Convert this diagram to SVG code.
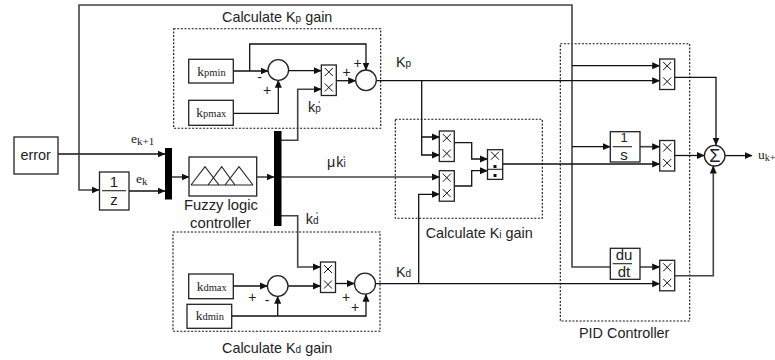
<svg xmlns="http://www.w3.org/2000/svg" xmlns:xlink="http://www.w3.org/1999/xlink" width="775" height="360" viewBox="0 0 775 360">
<style>
text{font-family:"Liberation Sans",Arial,sans-serif;font-size:14.4px;fill:#222}
.s{font-family:"Liberation Serif","Times New Roman",serif;font-size:13.500px}
.b{fill:#fff;stroke:#222;stroke-width:1.3}
.d{fill:none;stroke:#111;stroke-width:1.1;stroke-dasharray:2 1.6}
.c{fill:none;stroke:#111;stroke-width:1.3}
.t{fill:none;stroke:#444;stroke-width:1.6}
.a{marker-end:url(#ah)}
.x{stroke:#111;stroke-width:1;fill:none}
.f{stroke:#222;stroke-width:1.1}
.m{text-anchor:middle}
.sub{font-size:10px}
.pr{font-size:9px}
.sg{font-size:14px}
</style>
<defs>
<marker id="ah" markerUnits="userSpaceOnUse" markerWidth="10" markerHeight="8" refX="7.5" refY="4" orient="auto"><path d="M0,.5 L8,4 L0,7.500 Z" fill="#111"/></marker>
<g id="prod"><rect class="b" x="0" y="0" width="15" height="30.500"/><path class="x" d="M3.500,3 L11.500,11 M11.500,3 L3.500,11 M3.500,18.500 L11.500,26.500 M11.500,18.500 L3.500,26.500"/></g>
</defs>
<rect width="775" height="360" fill="#fff"/>
<g id="regions">
<rect class="d" x="173.700" y="28.700" width="207" height="99.600"/>
<rect class="d" x="173" y="232" width="207" height="99.300"/>
<rect class="d" x="395.300" y="119.300" width="147" height="99"/>
<rect class="d" x="560.300" y="43.700" width="129.400" height="277.300"/>
</g>
<g id="connectors">
<path class="t" d="M79,154 V5 H572 V267 H610"/>
<path class="c a" d="M58,154 H165"/>
<path class="t a" d="M79,154 V190 H99"/>
<path class="c a" d="M129,191 H165"/>
<path class="t a" d="M172,177 H189"/>
<path class="t a" d="M256.700,177 H274"/>
<path class="t a" d="M281,177 H439.500"/>
<path class="t a" d="M281,140.300 H297.700 V89.300 H321.300"/>
<path class="t a" d="M281,215.700 H297.700 V267 H320.500"/>
<path class="c a" d="M233.300,71 H268"/>
<path class="c a" d="M249.700,71 V44 H366 V70"/>
<path class="c a" d="M233.300,113.300 H278.300 V80.300"/>
<path class="c a" d="M288.600,70.700 H321.300"/>
<path class="c a" d="M336.300,80.700 H355.700"/>
<path class="c a" d="M376.300,80.700 H659.700"/>
<path class="c a" d="M421.700,80.700 V137 H439.500"/>
<path class="c a" d="M421.700,137 V155 H439.500"/>
<path class="c a" d="M233.300,286 H267.400"/>
<path class="c a" d="M231.700,316 H366 V294.200"/>
<path class="c a" d="M277.700,316 V296.300"/>
<path class="c a" d="M288,286 H320.500"/>
<path class="c a" d="M335.500,283.500 H354.500"/>
<path class="c a" d="M375.500,283.700 H659.700"/>
<path class="c a" d="M418.700,283.700 V194.300 H439.500"/>
<path class="c a" d="M454,142.700 H471.700 V159 H487.500"/>
<path class="c a" d="M454,186 H471.700 V170.700 H487.500"/>
<path class="c a" d="M502.700,164 H659.700"/>
<path class="c a" d="M572,65.700 H659.700"/>
<path class="c a" d="M572,146.700 H610.300"/>
<path class="t a" d="M640,146.700 H659.700"/>
<path class="t a" d="M640,267 H659.700"/>
<path class="c a" d="M675,77.300 H716 V145"/>
<path class="c a" d="M675,155.500 H704.300"/>
<path class="t a" d="M675,275.700 H713.300 V166"/>
<path class="c a" d="M725,155.600 H752"/>
</g>
<g id="error"><rect class="b" x="14" y="137" width="44" height="37"/><text x="20.500" y="160">error</text></g>
<g id="delay"><rect class="b" x="99.500" y="172" width="29.500" height="38"/><path class="f" d="M102,190.700 H126"/><text class="m" x="114" y="187" style="font-size:15px">1</text><text class="m" x="114" y="204.500" style="font-size:15px">z</text></g>
<g id="mux1"><rect x="165" y="148" width="7" height="51.500" fill="#000"/></g>
<g id="fuzzy"><rect class="b" x="189" y="157" width="67.700" height="39"/><path class="f" fill="none" d="M191,185 H253 M191,185 L205,166.700 L219,185 M208,185 L221.700,166.700 L235,185 M225,185 L239,166.700 L253,185"/><text class="m" x="221" y="210" style="font-size:14.800px">Fuzzy logic</text><text class="m" x="220.500" y="227.500" style="font-size:14.800px">controller</text></g>
<g id="mux2"><rect x="274" y="131" width="7.500" height="95" fill="#000"/></g>
<g id="kpmin"><rect class="b" x="188.700" y="59.300" width="44.600" height="23.700"/><text class="s" x="197.300" y="76">k<tspan style="font-size:10.500px">pmin</tspan></text></g>
<g id="kpmax"><rect class="b" x="188.700" y="100.300" width="44.600" height="25"/><text class="s" x="196.300" y="117">k<tspan style="font-size:10.500px">pmax</tspan></text></g>
<g id="sumP1"><circle class="b" cx="278.300" cy="70" r="10.300"/></g>
<g id="prodP"><use href="#prod" xlink:href="#prod" x="321.300" y="65"/></g>
<g id="sumP2"><circle class="b" cx="366" cy="80.300" r="10.300"/></g>
<g id="kdmax"><rect class="b" x="188.700" y="274" width="44.600" height="24.700"/><text class="s" x="196.700" y="290.700">k<tspan style="font-size:10.500px">dmax</tspan></text></g>
<g id="kdmin"><rect class="b" x="187" y="304.300" width="44.700" height="24"/><text class="s" x="195.700" y="320.300">k<tspan style="font-size:10.500px">dmin</tspan></text></g>
<g id="sumD1"><circle class="b" cx="277.700" cy="286" r="10.300"/></g>
<g id="prodD"><use href="#prod" xlink:href="#prod" x="320.500" y="262"/></g>
<g id="sumD2"><circle class="b" cx="365" cy="283.700" r="10.500"/></g>
<g id="prodA"><use href="#prod" xlink:href="#prod" x="439.300" y="131"/></g>
<g id="prodB"><use href="#prod" xlink:href="#prod" x="439.300" y="170.700"/></g>
<g id="divide"><rect class="b" x="487.500" y="149.700" width="15.200" height="29.700"/><path class="x" d="M491,151.700 L499,159.700 M499,151.700 L491,159.700 M487.500,169.300 H502.700"/><rect x="493.500" y="165" width="3" height="3" fill="#111"/><rect x="493.500" y="174" width="3" height="3" fill="#111"/></g>
<g id="prod1"><use href="#prod" xlink:href="#prod" x="659.700" y="59"/></g>
<g id="integ"><rect class="b" x="610.300" y="131.700" width="29.700" height="30.300"/><path class="f" d="M612.700,146.700 H632"/><text class="m" x="624" y="142" style="font-size:13px">1</text><text class="m" x="624" y="160" style="font-size:15px">s</text></g>
<g id="prod2"><use href="#prod" xlink:href="#prod" x="659.700" y="140.500"/></g>
<g id="deriv"><rect class="b" x="610.300" y="248.300" width="29.700" height="31"/><path class="f" d="M612.700,263.700 H632"/><text class="m" x="624" y="260" style="font-size:15px">du</text><text class="m" x="624" y="277.300" style="font-size:15px">dt</text></g>
<g id="prod3"><use href="#prod" xlink:href="#prod" x="659.700" y="260.300"/></g>
<g id="sum"><circle class="b" cx="714.700" cy="155.700" r="10.300"/><text class="m" x="714.700" y="162" style="font-size:18px">Σ</text></g>
<g id="labels">
<text x="222" y="22">Calculate K<tspan class="sub">p</tspan> gain</text>
<text x="222" y="353">Calculate K<tspan class="sub">d</tspan> gain</text>
<text x="425.700" y="238">Calculate K<tspan class="sub">i</tspan> gain</text>
<text x="579" y="337.700">PID Controller</text>
<text x="396" y="66.700">K<tspan class="sub">p</tspan></text>
<text x="396" y="276.700">K<tspan class="sub">d</tspan></text>
<text x="327" y="166.700">μ<tspan dx="1">k</tspan><tspan class="sub">i</tspan><tspan class="pr" dy="-5" dx="-2.500">'</tspan></text>
<text x="308" y="111.700">k<tspan class="sub">p</tspan><tspan class="pr" dy="-5" dx="-2.500">'</tspan></text>
<text x="305.700" y="224.300">k<tspan class="sub">d</tspan><tspan class="pr" dy="-6" dx="-2.500">'</tspan></text>
<text class="s" x="131" y="143">e<tspan dy="2" style="font-size:11px">k+1</tspan></text>
<text class="s" x="136" y="182.700">e<tspan dy="2" style="font-size:11px">k</tspan></text>
<text class="s" x="758" y="158.500">u<tspan dy="2" style="font-size:10px">k+</tspan></text>
<text class="m sg" x="259.700" y="82">-</text>
<text class="m sg" x="267" y="95">+</text>
<text class="m sg" x="346.700" y="77">+</text>
<text class="m sg" x="357.700" y="67.500">+</text>
<text class="m sg" x="252.300" y="302">+</text>
<text class="m sg" x="267" y="305">-</text>
<text class="m sg" x="346" y="302">+</text>
<text class="m sg" x="355" y="312">+</text>
</g>
</svg>
